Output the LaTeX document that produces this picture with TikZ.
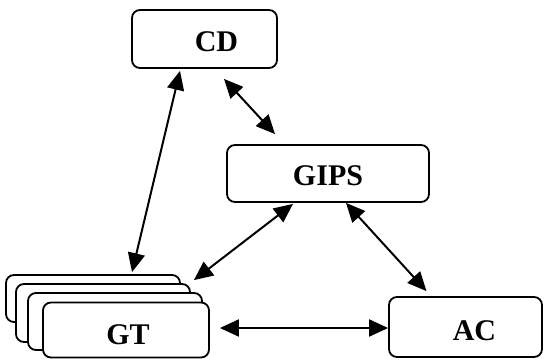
\documentclass[tikz,border=0pt]{standalone}
\usepackage{fontspec}
\setmainfont{Liberation Serif}
\usetikzlibrary{arrows.meta,calc}
\tikzset{
  box/.style={draw=black, line width=1.8pt, rounded corners=8pt, fill=white, inner sep=0pt},
  lbl/.style={font=\fontsize{30}{36}\selectfont\bfseries, inner sep=0pt},
  arr/.style={line width=2pt, {Triangle[length=19pt,width=17pt]}-{Triangle[length=19pt,width=17pt]}}
}
\begin{document}
\begin{tikzpicture}[x=1pt,y=1pt]
\useasboundingbox (0,0) rectangle (544,360);
% GT stack
\node[box, minimum width=174pt, minimum height=47pt] (gt1) at (93,61.5) {};
\node[box, minimum width=174pt, minimum height=58pt] (gt2) at (103,47) {};
\node[box, minimum width=174pt, minimum height=57pt] (gt3) at (115,38.5) {};
\node[box, minimum width=166pt, minimum height=55pt,
      label={[lbl,xshift=2pt,yshift=-5pt]center:GT}] (gt) at (126,30) {};
% other boxes
\node[box, minimum width=145pt, minimum height=58pt,
      label={[lbl,xshift=12pt,yshift=-3pt]center:CD}] (cd) at (204.5,321) {};
\node[box, minimum width=202pt, minimum height=57pt,
      label={[lbl,yshift=-2pt]center:GIPS}] (gips) at (328,186.5) {};
\node[box, minimum width=153pt, minimum height=60pt,
      label={[lbl,xshift=9pt,yshift=-4pt]center:AC}] (ac) at (465.5,33) {};
% connectors
\draw[arr] ([xshift=-24.5pt,yshift=-2pt]cd.south) -- ([xshift=39pt,yshift=2pt]gt1.north);
\draw[arr] ([xshift=19.5pt,yshift=-10pt]cd.south) -- ([xshift=-53pt,yshift=10pt]gips.north);
\draw[arr] ([xshift=-35pt,yshift=-1pt]gips.south) -- ([xshift=3pt,yshift=3pt]gt2.north east);
\draw[arr] ([xshift=18pt]gips.south) -- ([xshift=-39pt,yshift=5pt]ac.north);
\draw[arr] ([xshift=10pt,yshift=2pt]gt.east) -- ([yshift=-1pt]ac.west);
\end{tikzpicture}
\end{document}
